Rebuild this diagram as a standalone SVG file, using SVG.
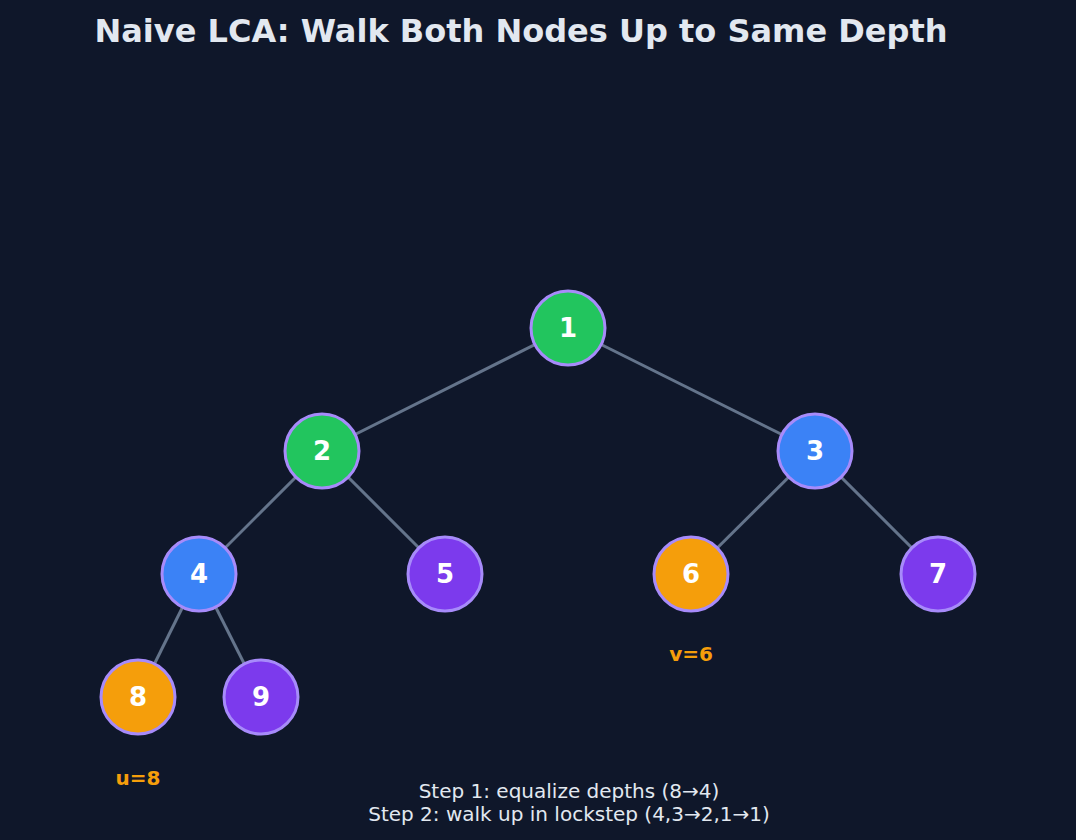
<svg xmlns="http://www.w3.org/2000/svg" width="1076" height="840" viewBox="0 0 1076 840">
<style>
.n{stroke:#a78bfa;stroke-width:3}
.t{font-family:"DejaVu Sans",sans-serif;font-weight:bold;font-size:26px;fill:#fff;text-anchor:middle;dominant-baseline:central}
.e line{stroke:#64748b;stroke-width:3}
.lab{font-family:"DejaVu Sans",sans-serif;font-weight:bold;font-size:20px;fill:#f59e0b;text-anchor:middle;dominant-baseline:central}
.g{fill:#22c55e}.b{fill:#3b82f6}.p{fill:#7c3aed}.o{fill:#f59e0b}
</style>
<rect width="1076" height="840" fill="#0f172a"/>
<text x="521" y="31" font-family="DejaVu Sans,sans-serif" font-weight="bold" font-size="32" fill="#e2e8f0" text-anchor="middle" dominant-baseline="central">Naive LCA: Walk Both Nodes Up to Same Depth</text>
<g class="e" id="edges">
<line x1="568" y1="328" x2="322" y2="451"/>
<line x1="568" y1="328" x2="815" y2="451"/>
<line x1="322" y1="451" x2="199" y2="574"/>
<line x1="322" y1="451" x2="445" y2="574"/>
<line x1="815" y1="451" x2="691" y2="574"/>
<line x1="815" y1="451" x2="938" y2="574"/>
<line x1="199" y1="574" x2="138" y2="697"/>
<line x1="199" y1="574" x2="261" y2="697"/>
</g>
<g id="n1"><circle class="n g" cx="568" cy="328" r="37"/><text class="t" x="568" y="328">1</text></g>
<g id="n2"><circle class="n g" cx="322" cy="451" r="37"/><text class="t" x="322" y="451">2</text></g>
<g id="n3"><circle class="n b" cx="815" cy="451" r="37"/><text class="t" x="815" y="451">3</text></g>
<g id="n4"><circle class="n b" cx="199" cy="574" r="37"/><text class="t" x="199" y="574">4</text></g>
<g id="n5"><circle class="n p" cx="445" cy="574" r="37"/><text class="t" x="445" y="574">5</text></g>
<g id="n6"><circle class="n o" cx="691" cy="574" r="37"/><text class="t" x="691" y="574">6</text></g>
<g id="n7"><circle class="n p" cx="938" cy="574" r="37"/><text class="t" x="938" y="574">7</text></g>
<g id="n8"><circle class="n o" cx="138" cy="697" r="37"/><text class="t" x="138" y="697">8</text></g>
<g id="n9"><circle class="n p" cx="261" cy="697" r="37"/><text class="t" x="261" y="697">9</text></g>
<text class="lab" x="691" y="654">v=6</text>
<text class="lab" x="138" y="778">u=8</text>
<g font-family="DejaVu Sans,sans-serif" font-size="20" fill="#e2e8f0" text-anchor="middle">
<text x="569" y="798">Step 1: equalize depths (8→4)</text>
<text x="569" y="821">Step 2: walk up in lockstep (4,3→2,1→1)</text>
</g>
</svg>
